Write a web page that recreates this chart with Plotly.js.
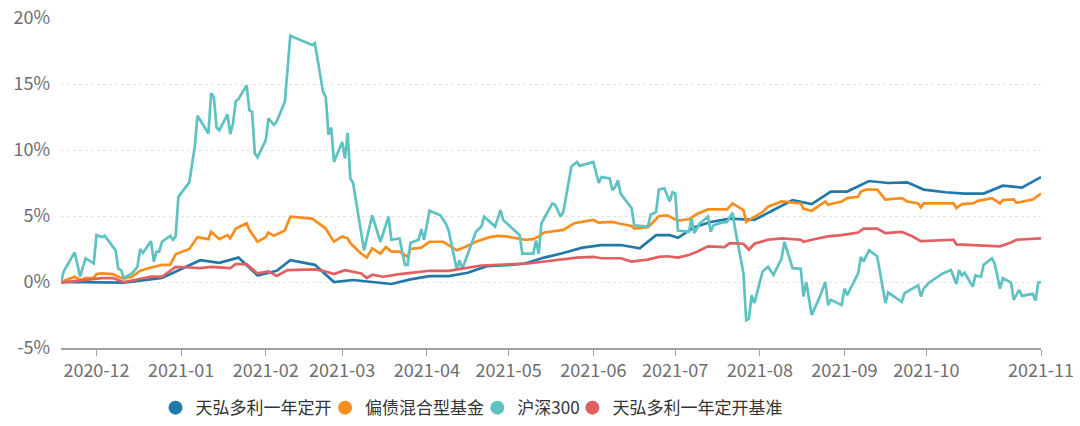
<!DOCTYPE html>
<html>
<head>
<meta charset="utf-8">
<script src="https://cdn.plot.ly/plotly-3.0.1.min.js"></script>
<style>
  body { margin: 0; background: #fff; }
  #chart { width: 1080px; height: 426px; }
</style>
</head>
<body>
<div id="chart"></div>
<script>
// 图例名称
const seriesNames = ['天弘多利一年定开', '偏债混合型基金', '沪深300', '天弘多利一年定开基准'];
const seriesColors = ['#2179a9', '#fb8d1d', '#5ec2c2', '#e25f62'];

// 天弘多利一年定开 (周度净值, 累计收益 %)
const fundDates = ['2020-11-18','2020-11-27','2020-12-04','2020-12-11','2020-12-25','2021-01-08','2021-01-15','2021-01-22','2021-01-29','2021-02-05','2021-02-10','2021-02-19','2021-02-26','2021-03-05','2021-03-12','2021-03-19','2021-03-26','2021-04-02','2021-04-09','2021-04-16','2021-04-23','2021-04-30','2021-05-07','2021-05-14','2021-05-21','2021-05-28','2021-06-04','2021-06-11','2021-06-18','2021-06-24','2021-06-29','2021-07-02','2021-07-08','2021-07-14','2021-07-21','2021-07-27','2021-07-30','2021-08-06','2021-08-13','2021-08-20','2021-08-27','2021-09-02','2021-09-10','2021-09-17','2021-09-24','2021-09-30','2021-10-08','2021-10-15','2021-10-22','2021-10-29','2021-11-05','2021-11-12'];
const fundVals = [0,0,0,-0.05,0.3,1.65,1.45,1.85,0.5,0.85,1.65,1.3,0,0.15,0,-0.15,0.2,0.45,0.45,0.7,1.2,1.27,1.4,1.85,2.2,2.6,2.8,2.8,2.55,3.55,3.55,3.35,4.15,4.55,4.8,4.75,4.7,5.45,6.2,5.9,6.85,6.85,7.65,7.5,7.55,7.0,6.8,6.7,6.7,7.3,7.15,7.95];

// 偏债混合型基金
const mixDates = ['2020-11-18','2020-11-23','2020-11-25','2020-11-27','2020-11-30','2020-12-01','2020-12-03','2020-12-07','2020-12-09','2020-12-11','2020-12-14','2020-12-17','2020-12-21','2020-12-25','2020-12-28','2020-12-30','2021-01-04','2021-01-07','2021-01-11','2021-01-12','2021-01-15','2021-01-18','2021-01-19','2021-01-21','2021-01-25','2021-01-26','2021-01-29','2021-02-01','2021-02-02','2021-02-04','2021-02-08','2021-02-10','2021-02-18','2021-02-23','2021-02-24','2021-02-26','2021-03-01','2021-03-03','2021-03-04','2021-03-08','2021-03-10','2021-03-12','2021-03-15','2021-03-17','2021-03-19','2021-03-22','2021-03-25','2021-03-26','2021-03-30','2021-04-02','2021-04-07','2021-04-12','2021-04-15','2021-04-19','2021-04-24','2021-04-27','2021-04-30','2021-05-07','2021-05-10','2021-05-12','2021-05-14','2021-05-17','2021-05-21','2021-05-25','2021-06-01','2021-06-03','2021-06-08','2021-06-10','2021-06-15','2021-06-16','2021-06-21','2021-06-23','2021-06-25','2021-06-28','2021-07-02','2021-07-06','2021-07-09','2021-07-13','2021-07-20','2021-07-22','2021-07-26','2021-07-27','2021-07-29','2021-08-02','2021-08-04','2021-08-09','2021-08-16','2021-08-17','2021-08-20','2021-08-25','2021-08-26','2021-08-31','2021-09-02','2021-09-06','2021-09-07','2021-09-09','2021-09-13','2021-09-16','2021-09-22','2021-09-24','2021-09-28','2021-09-29','2021-09-30','2021-10-08','2021-10-11','2021-10-12','2021-10-14','2021-10-18','2021-10-20','2021-10-25','2021-10-28','2021-10-29','2021-11-02','2021-11-03','2021-11-09','2021-11-12'];
const mixVals = [0,0.4,0.15,0.3,0.3,0.6,0.65,0.6,0.4,0.25,0.4,0.85,1.1,1.3,1.3,2.1,2.5,3.4,3.25,3.8,3.25,3.55,3.3,4.05,4.45,3.95,3.05,3.4,3.75,3.5,3.9,4.95,4.8,4.05,3.7,3.05,3.45,3.3,2.95,2.15,1.85,2.55,2.15,2.65,2.3,2.3,1.9,2.5,2.6,3.05,3.05,2.4,2.65,3.05,3.4,3.5,3.45,3.2,3.25,3.45,3.75,3.85,3.95,4.45,4.7,4.5,4.55,4.45,4.25,4.05,4.15,4.55,5.0,5.05,4.65,4.75,5.15,5.5,5.5,5.95,5.45,4.55,4.8,5.3,5.7,6.1,5.95,5.55,5.4,6.1,5.85,6.1,6.35,6.45,6.85,7.0,7.0,6.25,6.35,6.1,5.95,5.65,5.95,5.95,5.95,5.6,5.9,5.95,6.15,6.35,5.95,6.2,6.25,6.0,6.25,6.7];

// 沪深300
const hs300Dates = ['2020-11-18','2020-11-19','2020-11-23','2020-11-25','2020-11-27','2020-11-30','2020-12-01','2020-12-03','2020-12-04','2020-12-08','2020-12-09','2020-12-10','2020-12-11','2020-12-14','2020-12-16','2020-12-17','2020-12-18','2020-12-21','2020-12-22','2020-12-23','2020-12-24','2020-12-25','2020-12-28','2020-12-29','2020-12-30','2020-12-31','2021-01-04','2021-01-05','2021-01-06','2021-01-07','2021-01-11','2021-01-12','2021-01-13','2021-01-14','2021-01-15','2021-01-18','2021-01-19','2021-01-20','2021-01-21','2021-01-22','2021-01-25','2021-01-26','2021-01-27','2021-01-28','2021-01-29','2021-02-01','2021-02-02','2021-02-04','2021-02-05','2021-02-08','2021-02-10','2021-02-18','2021-02-19','2021-02-22','2021-02-23','2021-02-24','2021-02-25','2021-02-26','2021-03-01','2021-03-02','2021-03-03','2021-03-04','2021-03-05','2021-03-09','2021-03-12','2021-03-15','2021-03-18','2021-03-19','2021-03-22','2021-03-24','2021-03-25','2021-03-26','2021-03-29','2021-03-30','2021-03-31','2021-04-02','2021-04-06','2021-04-08','2021-04-09','2021-04-12','2021-04-13','2021-04-14','2021-04-19','2021-04-21','2021-04-22','2021-04-26','2021-04-28','2021-04-29','2021-05-05','2021-05-06','2021-05-10','2021-05-11','2021-05-12','2021-05-13','2021-05-17','2021-05-18','2021-05-20','2021-05-21','2021-05-24','2021-05-26','2021-05-27','2021-06-01','2021-06-03','2021-06-04','2021-06-07','2021-06-08','2021-06-09','2021-06-10','2021-06-11','2021-06-15','2021-06-16','2021-06-21','2021-06-22','2021-06-24','2021-06-25','2021-06-27','2021-06-29','2021-06-30','2021-07-01','2021-07-02','2021-07-06','2021-07-07','2021-07-08','2021-07-10','2021-07-13','2021-07-14','2021-07-15','2021-07-18','2021-07-20','2021-07-22','2021-07-23','2021-07-26','2021-07-27','2021-07-28','2021-07-29','2021-07-30','2021-08-02','2021-08-04','2021-08-06','2021-08-09','2021-08-10','2021-08-13','2021-08-16','2021-08-17','2021-08-18','2021-08-20','2021-08-23','2021-08-25','2021-08-26','2021-08-27','2021-08-31','2021-09-01','2021-09-02','2021-09-06','2021-09-07','2021-09-08','2021-09-10','2021-09-13','2021-09-16','2021-09-17','2021-09-22','2021-09-23','2021-09-28','2021-09-29','2021-09-30','2021-10-02','2021-10-07','2021-10-10','2021-10-12','2021-10-13','2021-10-14','2021-10-15','2021-10-18','2021-10-19','2021-10-21','2021-10-22','2021-10-25','2021-10-26','2021-10-28','2021-10-29','2021-11-01','2021-11-02','2021-11-04','2021-11-05','2021-11-09','2021-11-10','2021-11-11','2021-11-12'];
const hs300Vals = [0,0.8,2.25,0.4,1.8,1.4,3.55,3.4,3.5,2.4,1.0,0.9,0.3,0.65,1.15,2.5,2.2,3.1,1.55,2.3,2.3,3.05,3.5,3.2,3.45,6.45,7.55,8.75,10.25,12.6,11.25,14.3,14.0,11.7,11.5,12.7,11.2,12.0,13.7,13.85,14.9,13.0,12.9,9.75,9.45,10.75,12.4,11.9,12.15,13.65,18.65,17.95,18.1,14.4,14.0,11.15,11.7,9.1,10.6,9.35,11.3,7.85,7.5,2.4,5.05,3.05,4.95,3.2,3.3,1.3,1.3,2.95,3.2,4.0,3.2,5.4,5.05,4.4,3.9,0.95,1.65,1.0,3.8,4.2,4.95,4.2,5.45,4.7,3.55,2.15,2.15,3.15,2.15,4.45,5.95,5.85,4.95,5.3,8.75,9.1,8.8,9.1,7.5,7.95,7.85,6.95,7.2,7.7,6.7,5.6,4.3,4.2,5.1,5.3,7.0,7.1,6.1,6.8,6.7,3.9,3.8,4.8,3.7,4.45,4.95,3.8,4.3,4.5,4.55,5.25,3.95,0.65,-2.9,-2.8,-1.0,-1.6,0.8,1.15,0.55,1.8,3.05,1.05,1.0,-1.1,0.0,-2.5,-1.1,0.0,-1.75,-1.35,-1.75,-0.5,-1.0,0.65,1.9,1.55,2.4,1.95,-1.6,-0.8,-1.5,-0.85,-0.25,-1.1,-0.5,-0.05,0.65,0.9,-0.15,0.9,0.5,0.7,-0.35,0.5,0.4,1.3,1.8,1.4,-0.5,0.3,-0.05,-1.35,-0.6,-1.05,-0.9,-1.4,-0.05,0.0];

// 天弘多利一年定开基准
const benchDates = ['2020-11-18','2020-11-20','2020-11-27','2020-12-03','2020-12-07','2020-12-11','2020-12-15','2020-12-21','2020-12-25','2020-12-30','2021-01-04','2021-01-08','2021-01-12','2021-01-19','2021-01-21','2021-01-25','2021-01-29','2021-02-02','2021-02-05','2021-02-09','2021-02-19','2021-02-23','2021-02-26','2021-03-02','2021-03-08','2021-03-10','2021-03-12','2021-03-16','2021-03-22','2021-03-26','2021-04-02','2021-04-09','2021-04-14','2021-04-21','2021-05-08','2021-05-14','2021-05-21','2021-05-26','2021-06-01','2021-06-04','2021-06-11','2021-06-15','2021-06-21','2021-06-25','2021-06-28','2021-07-02','2021-07-06','2021-07-09','2021-07-13','2021-07-19','2021-07-21','2021-07-26','2021-07-28','2021-07-30','2021-08-04','2021-08-09','2021-08-16','2021-08-17','2021-08-20','2021-08-26','2021-08-31','2021-09-06','2021-09-08','2021-09-13','2021-09-16','2021-09-22','2021-09-26','2021-09-29','2021-10-11','2021-10-12','2021-10-18','2021-10-28','2021-11-01','2021-11-03','2021-11-12'];
const benchVals = [-0.05,0,0.15,0.3,0.3,0,0.15,0.4,0.4,1.15,1.1,1.05,1.15,1.05,1.35,1.35,0.65,0.8,0.45,0.9,0.95,0.8,0.6,0.9,0.65,0.3,0.55,0.4,0.6,0.7,0.85,0.85,1.0,1.25,1.4,1.55,1.7,1.85,1.9,1.8,1.8,1.55,1.7,1.9,1.95,1.85,2.05,2.3,2.7,2.65,2.95,2.9,2.45,2.9,3.2,3.3,3.2,3.05,3.2,3.45,3.55,3.75,4.05,4.05,3.7,3.8,3.45,3.1,3.2,2.85,2.8,2.7,3.0,3.2,3.3];

// x 轴刻度
const tickDates = ['2020-12-01','2021-01-01','2021-02-01','2021-03-01','2021-04-01','2021-05-01','2021-06-01','2021-07-01','2021-08-01','2021-09-01','2021-10-01','2021-11-12'];
const tickLabels = ['2020-12','2021-01','2021-02','2021-03','2021-04','2021-05','2021-06','2021-07','2021-08','2021-09','2021-10','2021-11'];
// y 轴刻度
const yTicks = [-5, 0, 5, 10, 15, 20];
const yLabels = ['-5%', '0%', '5%', '10%', '15%', '20%'];

const allDates = [fundDates, mixDates, hs300Dates, benchDates];
const allVals = [fundVals, mixVals, hs300Vals, benchVals];
const legendIds = ['legend', 'legend2', 'legend3', 'legend4'];
const legendX = [0.144, 0.301, 0.442, 0.53];  // 每个图例项的位置 (容器比例)

const traces = [];
// 折线 (不进图例)
[0, 1, 2, 3].forEach(i => {
    traces.push({
        x: allDates[i],
        y: allVals[i],
        type: 'scatter',
        mode: 'lines',
        name: seriesNames[i],
        showlegend: false,
        hoverinfo: 'skip',
        line: { color: seriesColors[i], width: 2.7 }
    });
});
// 图例用的圆点
[0, 1, 2, 3].forEach(i => {
    traces.push({
        x: [null],
        y: [null],
        type: 'scatter',
        mode: 'markers',
        name: seriesNames[i],
        legend: legendIds[i],
        marker: { color: seriesColors[i], size: 14, symbol: 'circle' }
    });
});

const layout = {
    width: 1080,
    height: 426,
    margin: { l: 61, r: 39, t: 18, b: 78 },
    paper_bgcolor: '#ffffff',
    plot_bgcolor: '#ffffff',
    font: { family: 'Noto Sans CJK SC, sans-serif', size: 18, color: '#666' },
    showlegend: true,
    xaxis: {
        type: 'date',
        range: ['2020-11-18', '2021-11-12'],
        tickvals: tickDates,
        ticktext: tickLabels,
        showgrid: false,
        zeroline: false,
        showline: true,
        linecolor: '#a0a0a0',
        linewidth: 1.5,
        ticks: 'outside',
        ticklen: 6,
        tickcolor: '#a0a0a0',
        tickfont: { size: 18, color: '#6e6e6e' },
        automargin: false
    },
    yaxis: {
        range: [-5, 20],
        tickvals: yTicks,
        ticktext: yLabels,
        showgrid: true,
        gridcolor: '#e3e3e3',
        griddash: 'dot',
        zeroline: false,
        showline: false,
        ticks: '',
        ticklabelstandoff: 10,
        tickfont: { size: 18, color: '#6e6e6e' },
        automargin: false
    }
};

legendIds.forEach((id, i) => {
    layout[id] = {
        orientation: 'h',
        xref: 'container',
        yref: 'container',
        x: legendX[i],
        xanchor: 'left',
        y: 0.042,
        yanchor: 'middle',
        bgcolor: 'rgba(0,0,0,0)',
        font: { size: 17, color: '#333' },
        itemwidth: 30
    };
});

Plotly.newPlot('chart', traces, layout, { displayModeBar: false, staticPlot: true });
</script>
</body>
</html>
